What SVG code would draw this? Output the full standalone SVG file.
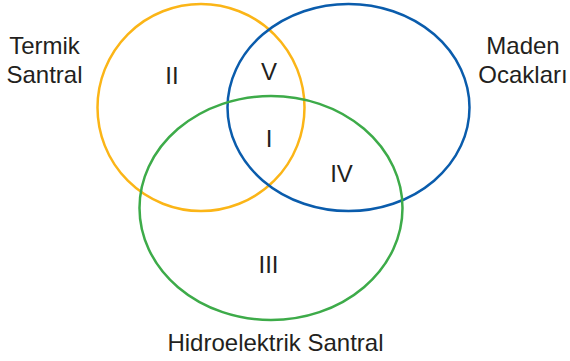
<svg xmlns="http://www.w3.org/2000/svg" width="570" height="361" viewBox="0 0 570 361">
<style>
.c{fill:none;stroke-width:2.5}
text{font-family:"Liberation Sans",Arial,sans-serif;font-size:24px;fill:#231f20;text-anchor:middle}
</style>
<rect width="570" height="361" fill="#fff"/>
<g id="termik"><ellipse class="c" cx="201" cy="107.5" rx="103.5" ry="103.5" stroke="#fbb517"/></g>
<g id="maden"><ellipse class="c" cx="348.5" cy="107.5" rx="121" ry="103.5" stroke="#0a5cac"/></g>
<g id="hidro"><ellipse class="c" cx="271" cy="208" rx="131.5" ry="112" stroke="#3dab49"/></g>
<g id="labels">
<text x="44.5" y="54">Termik</text>
<text x="44.5" y="83">Santral</text>
<text x="523" y="54">Maden</text>
<text x="523" y="83">Ocakları</text>
<text x="275.5" y="351">Hidroelektrik Santral</text>
</g>
<g id="regions">
<text x="172" y="84">II</text>
<text x="269" y="79.5">V</text>
<text x="269" y="147">I</text>
<text x="341.5" y="181.5">IV</text>
<text x="268.5" y="273">III</text>
</g>
</svg>
